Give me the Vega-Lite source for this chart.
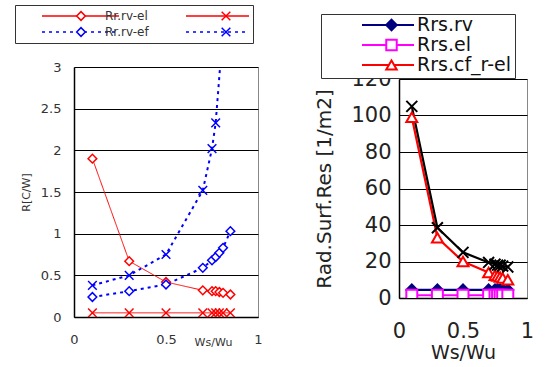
{
  "$schema": "https://vega.github.io/schema/vega-lite/v6.json",
  "padding": {"left": 14, "top": 4, "right": 0, "bottom": 0},
  "bounds": "flush",
  "spacing": 141,
  "background": "white",
  "resolve": {
    "scale": {"color": "independent", "shape": "independent", "strokeDash": "independent", "fill": "independent", "x": "independent", "y": "independent"},
    "legend": {"color": "independent", "shape": "independent", "strokeDash": "independent", "fill": "independent"}
  },
  "config": {
    "font": "DejaVu Sans",
    "view": {"stroke": "#888888"},
    "axis": {"domainColor": "black", "domainWidth": 1.5, "ticks": false, "gridColor": "black", "gridWidth": 1, "gridOpacity": 1, "labelColor": "#333333", "titleColor": "#333333", "titleFontWeight": "normal", "labelFlush": false, "labelOverlap": false}
  },
  "hconcat": [
    {
      "width": 184,
      "height": 250,
      "data": {"values": [
        {"series": "Rr.rv-el", "ws": 0.1, "r": 1.9},
        {"series": "Rr.rv-el", "ws": 0.3, "r": 0.67},
        {"series": "Rr.rv-el", "ws": 0.5, "r": 0.42},
        {"series": "Rr.rv-el", "ws": 0.7, "r": 0.32},
        {"series": "Rr.rv-el", "ws": 0.75, "r": 0.31},
        {"series": "Rr.rv-el", "ws": 0.77, "r": 0.31},
        {"series": "Rr.rv-el", "ws": 0.79, "r": 0.3},
        {"series": "Rr.rv-el", "ws": 0.81, "r": 0.29},
        {"series": "Rr.rv-el", "ws": 0.85, "r": 0.27},
        {"series": "Rr.cf-el", "ws": 0.1, "r": 0.05},
        {"series": "Rr.cf-el", "ws": 0.3, "r": 0.05},
        {"series": "Rr.cf-el", "ws": 0.5, "r": 0.05},
        {"series": "Rr.cf-el", "ws": 0.7, "r": 0.05},
        {"series": "Rr.cf-el", "ws": 0.75, "r": 0.05},
        {"series": "Rr.cf-el", "ws": 0.77, "r": 0.05},
        {"series": "Rr.cf-el", "ws": 0.79, "r": 0.05},
        {"series": "Rr.cf-el", "ws": 0.81, "r": 0.05},
        {"series": "Rr.cf-el", "ws": 0.85, "r": 0.05},
        {"series": "Rr.rv-ef", "ws": 0.1, "r": 0.24},
        {"series": "Rr.rv-ef", "ws": 0.3, "r": 0.31},
        {"series": "Rr.rv-ef", "ws": 0.5, "r": 0.39},
        {"series": "Rr.rv-ef", "ws": 0.7, "r": 0.59},
        {"series": "Rr.rv-ef", "ws": 0.75, "r": 0.68},
        {"series": "Rr.rv-ef", "ws": 0.77, "r": 0.72},
        {"series": "Rr.rv-ef", "ws": 0.79, "r": 0.77},
        {"series": "Rr.rv-ef", "ws": 0.81, "r": 0.83},
        {"series": "Rr.rv-ef", "ws": 0.85, "r": 1.03},
        {"series": "Rr.cf-ef", "ws": 0.1, "r": 0.38},
        {"series": "Rr.cf-ef", "ws": 0.3, "r": 0.5},
        {"series": "Rr.cf-ef", "ws": 0.5, "r": 0.75},
        {"series": "Rr.cf-ef", "ws": 0.7, "r": 1.52},
        {"series": "Rr.cf-ef", "ws": 0.75, "r": 2.02},
        {"series": "Rr.cf-ef", "ws": 0.77, "r": 2.33},
        {"series": "Rr.cf-ef", "ws": 0.81, "r": 3.45}
      ]},
      "encoding": {
        "x": {"field": "ws", "type": "quantitative", "scale": {"domain": [0, 1]},
          "axis": {"values": [0, 0.5, 1], "format": "~g", "grid": false, "labelFontSize": 13, "labelPadding": 16, "title": "Ws/Wu", "titleFontSize": 11, "titleX": 139, "titleY": 25, "titleBaseline": "middle"}},
        "y": {"field": "r", "type": "quantitative", "scale": {"domain": [0, 3]},
          "axis": {"values": [0, 0.5, 1, 1.5, 2, 2.5, 3], "format": "~g", "grid": true, "labelFontSize": 13, "labelPadding": 13, "title": "R[C/W]", "titleFontSize": 11, "titleX": -48, "titleY": 125, "titleAngle": -90, "titleAlign": "center", "titleBaseline": "middle"}}
      },
      "layer": [
        {
          "transform": [{"filter": {"field": "series", "oneOf": ["Rr.rv-el", "Rr.cf-el"]}}],
          "mark": {"type": "line", "clip": true, "strokeWidth": 1},
          "encoding": {
            "color": {"field": "series", "type": "nominal",
              "scale": {"domain": ["Rr.rv-el", "Rr.cf-el", "Rr.rv-ef", "Rr.cf-ef"], "range": ["#ff0000", "#ff0000", "#0000ff", "#0000ff"]},
              "legend": {
                "orient": "none", "legendX": -59, "legendY": -62, "direction": "horizontal", "columns": 2,
                "title": null, "fillColor": "white", "strokeColor": "#333333", "padding": 4, "zindex": 1,
                "symbolType": "stroke", "symbolSize": 5929, "clipHeight": 14, "rowPadding": 2, "columnPadding": 14,
                "symbolOffset": 22, "labelOffset": -15, "labelFontSize": 12, "labelColor": "#333333",
                "symbolStrokeWidth": 1.5,
                "labelExpr": "indexof(datum.value, 'cf') >= 0 ? '' : datum.label"
              }},
            "strokeDash": {"field": "series", "type": "nominal",
              "scale": {"domain": ["Rr.rv-el", "Rr.cf-el", "Rr.rv-ef", "Rr.cf-ef"], "range": [[1, 0], [1, 0], [3, 4], [3, 4]]}}
          }
        },
        {
          "transform": [{"filter": {"field": "series", "oneOf": ["Rr.rv-ef", "Rr.cf-ef"]}}],
          "mark": {"type": "line", "clip": true, "strokeWidth": 2},
          "encoding": {
            "color": {"field": "series", "type": "nominal"},
            "strokeDash": {"field": "series", "type": "nominal"}
          }
        },
        {
          "mark": {"type": "point", "clip": true, "filled": false, "fill": "white", "fillOpacity": 1, "opacity": 1, "size": 75, "strokeWidth": 1.5},
          "encoding": {
            "color": {"field": "series", "type": "nominal", "legend": null},
            "shape": {"field": "series", "type": "nominal",
              "scale": {"domain": ["Rr.cf-el", "Rr.rv-el", "Rr.rv-ef", "Rr.cf-ef"], "range": ["M-1,-1L1,1M-1,1L1,-1", "diamond", "diamond", "M-1,-1L1,1M-1,1L1,-1"]},
              "legend": {
                "orient": "none", "legendX": -59, "legendY": -62, "direction": "horizontal", "columns": 2,
                "values": ["Rr.rv-el", "Rr.cf-el", "Rr.rv-ef", "Rr.cf-ef"],
                "title": null, "padding": 4, "zindex": 2,
                "symbolSize": 75, "clipHeight": 14, "rowPadding": 2, "columnPadding": 14,
                "symbolOffset": 56, "labelOffset": 19, "labelFontSize": 12, "labelOpacity": 0,
                "labelExpr": "indexof(datum.value, 'cf') >= 0 ? '' : datum.label",
                "encoding": {"symbols": {
                  "size": {"value": 75},
                  "strokeWidth": {"value": 1.5},
                  "fill": {"value": "white"},
                  "fillOpacity": {"value": 1},
                  "stroke": {"value": {"expr": "indexof(datum.value, '-el') >= 0 ? '#ff0000' : '#0000ff'"}}
                }}
              }}
          }
        }
      ]
    },
    {
      "spacing": 0,
      "bounds": "flush",
      "vconcat": [
        {
          "width": 128,
          "height": 12,
          "view": {"stroke": null},
          "data": {"values": []},
          "mark": "point",
          "encoding": {}
        },
        {
          "width": 128,
          "height": 219,
          "data": {"values": [
            {"series": "Rrs.rv", "ws": 0.1, "rrs": 4.4},
            {"series": "Rrs.rv", "ws": 0.3, "rrs": 4.4},
            {"series": "Rrs.rv", "ws": 0.5, "rrs": 4.4},
            {"series": "Rrs.rv", "ws": 0.7, "rrs": 4.4},
            {"series": "Rrs.rv", "ws": 0.75, "rrs": 4.4},
            {"series": "Rrs.rv", "ws": 0.77, "rrs": 4.4},
            {"series": "Rrs.rv", "ws": 0.79, "rrs": 4.4},
            {"series": "Rrs.rv", "ws": 0.81, "rrs": 4.4},
            {"series": "Rrs.rv", "ws": 0.85, "rrs": 4.4},
            {"series": "Rrs.el", "ws": 0.1, "rrs": 1.5},
            {"series": "Rrs.el", "ws": 0.3, "rrs": 1.5},
            {"series": "Rrs.el", "ws": 0.5, "rrs": 1.5},
            {"series": "Rrs.el", "ws": 0.7, "rrs": 1.5},
            {"series": "Rrs.el", "ws": 0.75, "rrs": 1.5},
            {"series": "Rrs.el", "ws": 0.77, "rrs": 1.5},
            {"series": "Rrs.el", "ws": 0.79, "rrs": 1.5},
            {"series": "Rrs.el", "ws": 0.81, "rrs": 1.5},
            {"series": "Rrs.el", "ws": 0.85, "rrs": 1.5},
            {"series": "Rrs.cf_r-el", "ws": 0.1, "rrs": 99},
            {"series": "Rrs.cf_r-el", "ws": 0.3, "rrs": 33},
            {"series": "Rrs.cf_r-el", "ws": 0.5, "rrs": 20},
            {"series": "Rrs.cf_r-el", "ws": 0.7, "rrs": 14},
            {"series": "Rrs.cf_r-el", "ws": 0.75, "rrs": 12.5},
            {"series": "Rrs.cf_r-el", "ws": 0.77, "rrs": 12},
            {"series": "Rrs.cf_r-el", "ws": 0.79, "rrs": 11.5},
            {"series": "Rrs.cf_r-el", "ws": 0.81, "rrs": 11},
            {"series": "Rrs.cf_r-el", "ws": 0.85, "rrs": 10},
            {"series": "Rrs.cf_r-ef", "ws": 0.1, "rrs": 105},
            {"series": "Rrs.cf_r-ef", "ws": 0.3, "rrs": 38.5},
            {"series": "Rrs.cf_r-ef", "ws": 0.5, "rrs": 25},
            {"series": "Rrs.cf_r-ef", "ws": 0.7, "rrs": 19.5},
            {"series": "Rrs.cf_r-ef", "ws": 0.75, "rrs": 18.5},
            {"series": "Rrs.cf_r-ef", "ws": 0.77, "rrs": 18},
            {"series": "Rrs.cf_r-ef", "ws": 0.79, "rrs": 18},
            {"series": "Rrs.cf_r-ef", "ws": 0.81, "rrs": 17.5},
            {"series": "Rrs.cf_r-ef", "ws": 0.85, "rrs": 17}
          ]},
          "encoding": {
            "x": {"field": "ws", "type": "quantitative", "scale": {"domain": [0, 1]},
              "axis": {"values": [0, 0.5, 1], "format": "~g", "grid": false, "labelFontSize": 21, "labelPadding": 22, "labelColor": "#222222", "title": "Ws/Wu", "titleFontSize": 19, "titleColor": "#222222", "titleX": 64, "titleY": 54, "titleBaseline": "middle"}},
            "y": {"field": "rrs", "type": "quantitative", "scale": {"domain": [0, 120]},
              "axis": {"values": [0, 20, 40, 60, 80, 100, 120], "grid": true, "labelFontSize": 21, "labelPadding": 8, "labelColor": "#222222", "title": "Rad.Surf.Res [1/m2]", "titleFontSize": 20, "titleColor": "#222222", "titleX": -75, "titleY": 109.5, "titleAngle": -90, "titleAlign": "center", "titleBaseline": "middle"}},
            "color": {"field": "series", "type": "nominal",
              "scale": {"domain": ["Rrs.rv", "Rrs.el", "Rrs.cf_r-el", "Rrs.cf_r-ef"], "range": ["#000080", "#ff00ff", "#ff0000", "#000000"]}}
          },
          "layer": [
            {
              "mark": {"type": "line", "clip": true, "strokeWidth": 2.2},
              "encoding": {
                "color": {"field": "series", "type": "nominal",
                  "legend": {
                    "orient": "none", "legendX": -78, "legendY": -53, "direction": "vertical",
                    "values": ["Rrs.rv", "Rrs.el", "Rrs.cf_r-el"],
                    "title": null, "fillColor": "white", "strokeColor": "#333333", "padding": 3, "zindex": 1,
                    "symbolType": "stroke", "symbolSize": 2704, "clipHeight": 16, "rowPadding": 1,
                    "symbolOffset": 37, "labelOffset": 2, "labelFontSize": 19, "labelColor": "#111111",
                    "symbolStrokeWidth": 2
                  }}
              }
            },
            {
              "mark": {"type": "point", "clip": true, "filled": false, "fillOpacity": 1, "opacity": 1, "size": 120, "strokeWidth": 2},
              "encoding": {
                "color": {"field": "series", "type": "nominal", "legend": null},
                "fill": {"field": "series", "type": "nominal", "legend": null,
                  "scale": {"domain": ["Rrs.rv", "Rrs.el", "Rrs.cf_r-el", "Rrs.cf_r-ef"], "range": ["#000080", "#ffffff", "#ffffff", "#ffffff"]}},
                "shape": {"field": "series", "type": "nominal",
                  "scale": {"domain": ["Rrs.cf_r-ef", "Rrs.rv", "Rrs.el", "Rrs.cf_r-el"], "range": ["M-1,-1L1,1M-1,1L1,-1", "diamond", "square", "triangle-up"]},
                  "legend": {
                    "orient": "none", "legendX": -78, "legendY": -53, "direction": "vertical",
                    "values": ["Rrs.rv", "Rrs.el", "Rrs.cf_r-el"],
                    "title": null, "padding": 3, "zindex": 2,
                    "symbolSize": 110, "clipHeight": 16, "rowPadding": 1,
                    "symbolOffset": 58, "labelOffset": 23, "labelFontSize": 19, "labelOpacity": 0,
                    "encoding": {"symbols": {
                      "size": {"value": 110},
                      "strokeWidth": {"value": 2},
                      "fillOpacity": {"value": 1},
                      "fill": {"value": {"expr": "datum.value === 'Rrs.rv' ? '#000080' : 'white'"}},
                      "stroke": {"value": {"expr": "datum.value === 'Rrs.rv' ? '#000080' : datum.value === 'Rrs.el' ? '#ff00ff' : '#ff0000'"}}
                    }}
                  }}
              }
            }
          ]
        }
      ]
    }
  ]
}
